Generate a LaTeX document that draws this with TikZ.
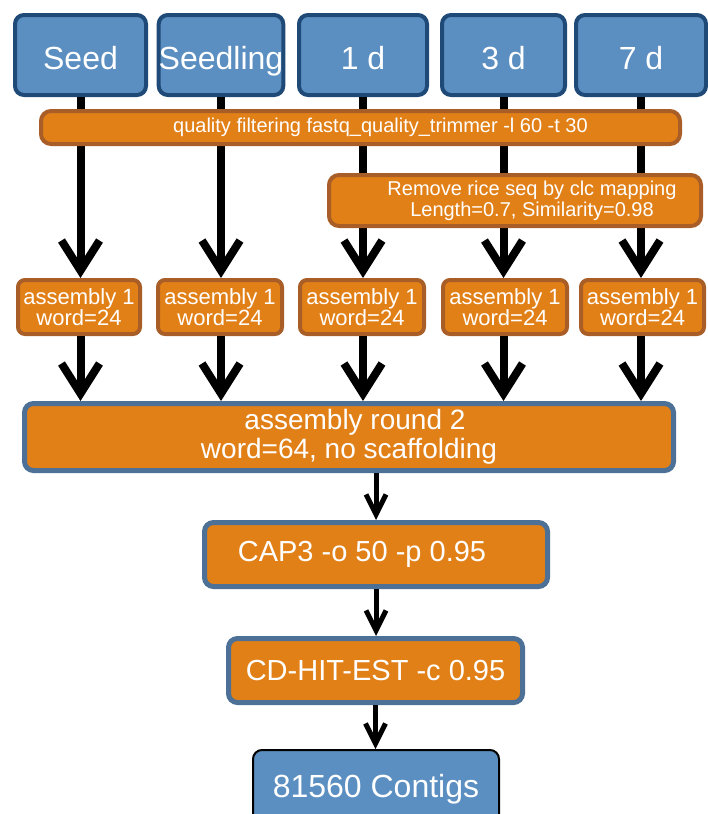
\documentclass[tikz,border=0pt]{standalone}
\usepackage{fontspec}
\setmainfont{Liberation Sans}
\usetikzlibrary{arrows.meta,positioning}
\definecolor{stageblue}{RGB}{92,143,193}
\definecolor{stageedge}{RGB}{31,74,120}
\definecolor{steporange}{RGB}{226,128,24}
\definecolor{stepedge}{RGB}{168,94,38}
\definecolor{steeledge}{RGB}{76,112,150}

\begin{document}
\begin{tikzpicture}[x=1pt, y=-1pt,
    stage/.style={rectangle, rounded corners=9pt, draw=stageedge, line width=4pt, fill=stageblue, text=white, minimum height=80pt, inner sep=0pt, text height=29pt, text depth=0pt, font=\fontsize{32}{36}\selectfont},
    filt/.style={rectangle, rounded corners=10pt, draw=stepedge, line width=4pt, fill=steporange, text=white, inner sep=0pt, align=center, font=\fontsize{20}{21}\selectfont},
    asm/.style={rectangle, rounded corners=7pt, draw=stepedge, line width=4pt, fill=steporange, text=white, minimum width=122pt, minimum height=54pt, inner sep=0pt, align=center, font=\fontsize{22}{21}\selectfont},
    pipe/.style={rectangle, rounded corners=9pt, draw=steeledge, line width=5pt, fill=steporange, text=white, inner sep=0pt, minimum height=64pt, align=center},
    result/.style={rectangle, rounded corners=9pt, draw=black, line width=2pt, fill=stageblue, text=white, inner sep=0pt, font=\fontsize{32}{36}\selectfont},
    bigflow/.style={line width=8pt, -{Straight Barb[length=30pt,width=38pt]}},
    flow/.style={line width=5pt, -{Straight Barb[length=20pt,width=20pt]}}
]
\useasboundingbox (0,0) rectangle (707,814);

% samples
\node[stage, minimum width=131pt] (seed) at (80.5,55) {Seed};
\node[stage, minimum width=124pt] (seedling) at (221,55) {Seedling};
\node[stage, minimum width=128pt] (d1) at (363,55) {1 d};
\node[stage, minimum width=123pt] (d3) at (503.5,55) {3 d};
\node[stage, minimum width=130pt] (d7) at (641,55) {7 d};

% first round assemblies
\node[asm] (asm1) at (79,307) {assembly 1\\word=24};
\node[asm, minimum width=124pt] (asm2) at (220,307) {assembly 1\\word=24};
\node[asm, minimum width=124pt] (asm3) at (362,307) {assembly 1\\word=24};
\node[asm, minimum width=124pt] (asm4) at (505,307) {assembly 1\\word=24};
\node[asm, minimum width=123pt] (asm5) at (642.5,307) {assembly 1\\word=24};

\node[pipe, minimum width=649pt, minimum height=67pt, font=\fontsize{28}{29}\selectfont] (round2) at (349,437) {\hspace*{12pt}assembly round 2\\word=64, no scaffolding};

\foreach \s/\a in {seed/asm1, seedling/asm2, d1/asm3, d3/asm4, d7/asm5} {
  \draw[bigflow] (\s.south) -- (\s.south |- \a.north);
  \draw[bigflow] (\a.south -| \s.south) -- (round2.north -| \s.south);
}

% filtering steps sit on top of the arrows
\node[filt, minimum width=639pt, minimum height=33pt] (qual) at (360.5,127.5) {\hspace*{40pt}quality filtering fastq\_quality\_trimmer -l 60 -t 30};
\node[filt, minimum width=372pt, minimum height=51pt] (clc) at (515,200.5) {\hspace*{34pt}Remove rice seq by clc mapping\\\hspace*{34pt}Length=0.7, Similarity=0.98};

% clustering
\node[pipe, minimum width=343pt, font=\fontsize{29}{32}\selectfont] (cap3) at (376,554.5) {CAP3 -o 50 -p 0.95\hspace*{28pt}};
\node[pipe, minimum width=294pt, font=\fontsize{29}{32}\selectfont] (cdhit) at (375.5,670.5) {CD-HIT-EST -c 0.95};
\node[result, minimum width=246pt, minimum height=78pt] (contigs) at (376,789) {81560 Contigs};

\draw[flow] (round2.south -| cap3.north) -- (cap3.north);
\draw[flow] (cap3.south) -- (cap3.south |- cdhit.north);
\draw[flow] (cdhit.south) -- (cdhit.south |- contigs.north);
\end{tikzpicture}
\end{document}
